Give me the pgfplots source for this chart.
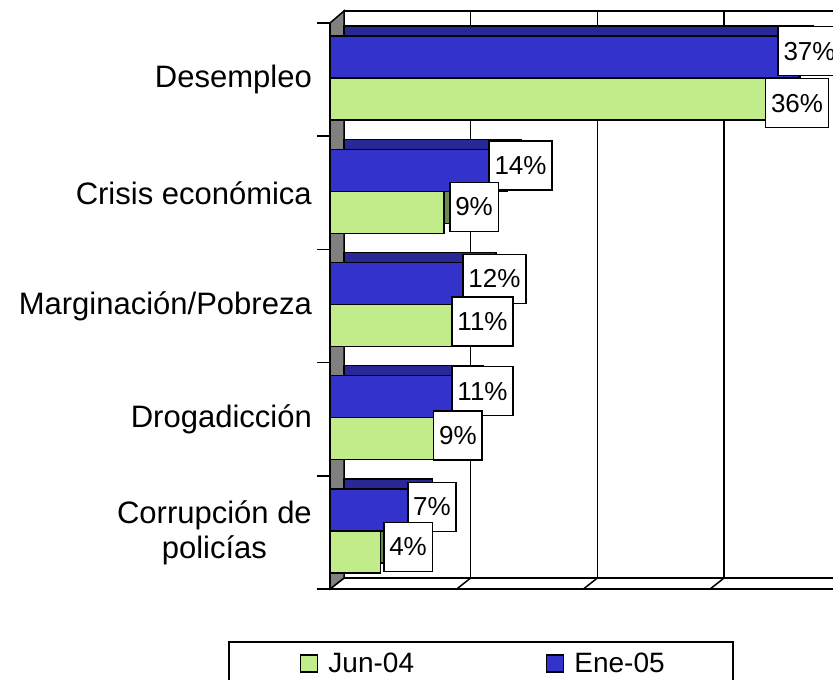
\documentclass[border=0pt]{standalone}
\usepackage{fontspec}
\setmainfont{Liberation Sans}
\usepackage{pgfplots}
\usepackage{pgfplotstable}
\pgfplotsset{compat=1.18}
\definecolor{barblue}{RGB}{51,51,204}
\definecolor{bartop}{RGB}{40,40,150}
\definecolor{bargreen}{RGB}{194,236,138}
\definecolor{greenside}{RGB}{105,140,75}
\definecolor{wallgray}{RGB}{128,128,128}
\tikzset{lbl/.style={draw=black, fill=white, line width=1.6pt, font=\fontsize{26}{30}\selectfont, minimum height=49pt, inner xsep=5.5pt, inner ysep=0pt}}
\pgfplotstableread{
y jun ene
0 36 37
1 9 14
2 11 12
3 9 11
4 4 7
}\datatable
\begin{document}
\begin{tikzpicture}
\useasboundingbox (0,0) rectangle (833pt,-680pt);
\clip (0,0) rectangle (833pt,-680pt);
\fill[white] (0,0) rectangle (833pt,-680pt);
% back wall
\draw[line width=1.5pt, fill=white] (344pt,-11pt) rectangle (851pt,-578pt);
\foreach \k in {1,2,3} {\draw[line width=1.5pt] ({344pt+126.7pt*\k},-11pt) -- ({344pt+126.7pt*\k},-578pt);}
% floor
\draw[line width=1.5pt, fill=white] (330pt,-589pt) -- (344pt,-578pt) -- (851pt,-578pt) -- (837pt,-589pt) -- cycle;
\foreach \k in {1,2,3} {\draw[line width=1.5pt] ({330pt+126.7pt*\k},-589pt) -- ({344pt+126.7pt*\k},-578pt);}
% side wall
\draw[line width=1.5pt, fill=wallgray] (330pt,-23pt) -- (344pt,-11pt) -- (344pt,-578pt) -- (330pt,-589pt) -- cycle;
% legend frame
\draw[line width=1.6pt, fill=white] (229pt,-642pt) rectangle (733pt,-685pt);
\begin{axis}[
  at={(330pt,-589pt)}, anchor=south west,
  scale only axis, width=506.8pt, height=566pt,
  xmin=0, xmax=40, ymin=-0.5, ymax=4.5, y dir=reverse,
  clip=false,
  axis lines*=left,
  axis line style={line width=1.5pt, -},
  xtick=\empty,
  ytick={-0.5,0.5,1.5,2.5,3.5,4.5},
  yticklabels={},
  tick align=outside,
  major tick length=13pt,
  tick style={line width=1.5pt, black},
  extra y ticks={0,1,2,3,4},
  extra y tick labels={Desempleo, Crisis económica, Marginación/Pobreza, Drogadicción, {Corrupción de\\policías}},
  extra y tick style={major tick length=0pt},
  yticklabel style={font=\fontsize{31}{35}\selectfont, align=center, inner sep=0pt, xshift=-18pt},
  legsq/.style={legend image code/.code={\draw[##1, draw=black, line width=1.3pt] (0pt,-8.5pt) rectangle (17pt,8.5pt);}},
  legend columns=2,
  legend style={at={(axis description cs:-0.0592,-0.1316)}, anchor=west, draw=none, fill=none,
    font=\fontsize{28}{32}\selectfont, inner sep=0pt,
    /tikz/every odd column/.append style={column sep=8pt},
    /tikz/every even column/.append style={column sep=130pt}},
]
\addplot[xbar, bar width=42pt, bar shift=-19.5pt, fill=greenside, draw=black, line width=1.5pt, xshift=14pt, yshift=10pt, forget plot] table[x=jun, y=y] {\datatable};
\addplot[xbar, bar width=42pt, bar shift=22.5pt, fill=bartop, draw=black, line width=1.5pt, xshift=14pt, yshift=10pt, forget plot] table[x=ene, y=y] {\datatable};
\addplot[xbar, legsq, bar width=42pt, bar shift=-19.5pt, fill=bargreen, draw=black, line width=1.5pt] table[x=jun, y=y] {\datatable};
\addlegendentry{Jun-04}
\addplot[xbar, legsq, bar width=42pt, bar shift=22.5pt, fill=barblue, draw=black, line width=1.5pt] table[x=ene, y=y] {\datatable};
\addlegendentry{Ene-05}
\node[lbl] at (axis cs:37.85,-0.252) {37\%};
\node[lbl] at (axis cs:36.86,0.208) {36\%};
\node[lbl] at (axis cs:15.04,0.761) {14\%};
\node[lbl] at (axis cs:11.37,1.124) {9\%};
\node[lbl] at (axis cs:12.98,1.761) {12\%};
\node[lbl] at (axis cs:12.04,2.137) {11\%};
\node[lbl] at (axis cs:12.04,2.752) {11\%};
\node[lbl] at (axis cs:10.10,3.142) {9\%};
\node[lbl] at (axis cs:8.05,3.774) {7\%};
\node[lbl] at (axis cs:6.16,4.128) {4\%};
\end{axis}
\end{tikzpicture}
\end{document}
